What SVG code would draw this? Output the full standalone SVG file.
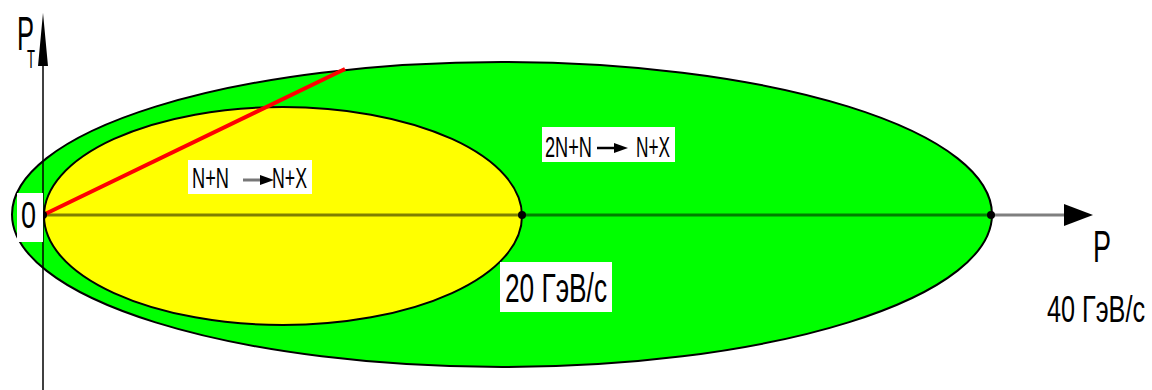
<svg xmlns="http://www.w3.org/2000/svg" width="1152" height="390" viewBox="0 0 1152 390">
<style>
.t{font-family:"Liberation Sans",Arial,sans-serif;fill:#000}
.box{fill:#fff}
.edge{stroke:#000;stroke-width:2}
</style>
<rect width="1152" height="390" fill="#fff"/>
<g id="outer-ellipse">
<ellipse cx="502" cy="214.5" rx="490" ry="152.5" fill="#00ff00" class="edge"/>
</g>
<g id="inner-ellipse">
<ellipse cx="283" cy="216" rx="239" ry="109" fill="#ffff00" class="edge"/>
</g>
<g id="connectors">
<line x1="43" y1="215" x2="1070" y2="215" stroke="#000" stroke-opacity="0.5" stroke-width="3"/>
<path d="M1064,204 L1093,215 L1064,226 Z" fill="#000"/>
<line x1="43" y1="390" x2="43" y2="60" stroke="#000" stroke-width="1.5"/>
<path d="M38,66 L43,13 L48,66 Z" fill="#000"/>
<line x1="43" y1="215" x2="345" y2="69" stroke="#ff0000" stroke-width="4"/>
<circle cx="43" cy="215" r="4" fill="#000"/>
<circle cx="522" cy="215" r="4" fill="#000"/>
<circle cx="991" cy="215" r="4" fill="#000"/>
</g>
<g id="label-pt">
<text class="t" x="17" y="50" font-size="48" textLength="17" lengthAdjust="spacingAndGlyphs">P</text>
<text class="t" x="27" y="68" font-size="25" textLength="8" lengthAdjust="spacingAndGlyphs">T</text>
</g>
<g id="label-zero">
<rect class="box" x="17" y="193" width="26" height="49"/>
<text class="t" x="21" y="228" font-size="36" textLength="15" lengthAdjust="spacingAndGlyphs">0</text>
</g>
<g id="label-nn">
<rect class="box" x="188" y="160" width="124" height="34"/>
<text class="t" x="192" y="188" font-size="29" textLength="37" lengthAdjust="spacingAndGlyphs">N+N</text>
<line x1="243" y1="180" x2="262" y2="180" stroke="#777" stroke-width="3"/>
<path d="M260,175 L274,180 L260,185 Z" fill="#000"/>
<text class="t" x="272" y="188" font-size="29" textLength="35" lengthAdjust="spacingAndGlyphs">N+X</text>
</g>
<g id="label-2nn">
<rect class="box" x="542" y="127" width="133" height="35"/>
<text class="t" x="545" y="157" font-size="30" textLength="47" lengthAdjust="spacingAndGlyphs">2N+N</text>
<line x1="597" y1="148" x2="617" y2="148" stroke="#000" stroke-width="2.5"/>
<path d="M614,143 L628,148 L614,153 Z" fill="#000"/>
<text class="t" x="636" y="157" font-size="30" textLength="34" lengthAdjust="spacingAndGlyphs">N+X</text>
</g>
<g id="label-20">
<rect class="box" x="500" y="262" width="112" height="50"/>
<text class="t" x="505" y="302" font-size="40" textLength="102" lengthAdjust="spacingAndGlyphs">20 ГэВ/с</text>
</g>
<g id="label-p">
<text class="t" x="1093" y="262" font-size="44" textLength="18" lengthAdjust="spacingAndGlyphs">P</text>
<text class="t" x="1047" y="322" font-size="37" textLength="98" lengthAdjust="spacingAndGlyphs">40 ГэВ/с</text>
</g>
</svg>
